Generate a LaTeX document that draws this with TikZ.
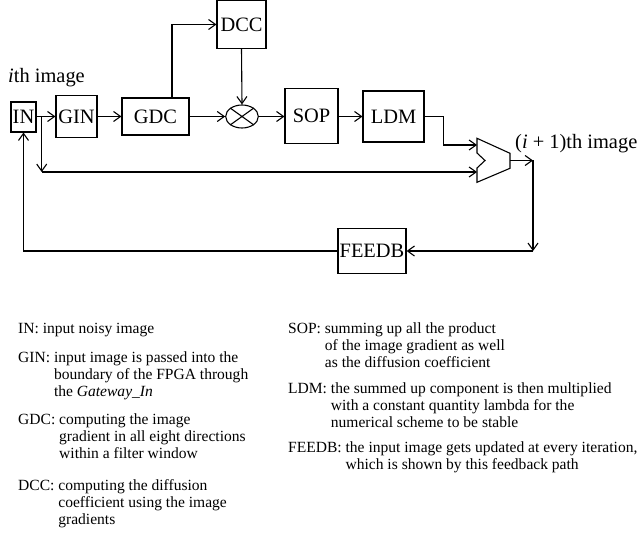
\documentclass[tikz,border=0pt]{standalone}
\usepackage{fontspec}
\setmainfont{Liberation Serif}
\usetikzlibrary{arrows.meta,shapes.geometric}
\begin{document}
\begin{tikzpicture}[x=1bp,y=-1bp,
  blk/.style={draw, line width=1.1bp, inner sep=0pt, font=\fontsize{20.5}{24}\selectfont},
  arr/.style={line width=1.1bp, -{Straight Barb[length=7bp,width=10bp,line width=1.1bp]}},
  ln/.style={line width=1.1bp},
  legend/.style={anchor=base west, inner sep=0pt, font=\fontsize{15.6}{17.4}\selectfont},
  lbl/.style={anchor=base west, inner sep=0pt, font=\fontsize{20.5}{24}\selectfont}]
\useasboundingbox (0,0) rectangle (642,536);

% blocks
\node[blk, minimum width=25bp, minimum height=30bp] (in) at (23.5,117) {IN};
\node[blk, minimum width=41bp, minimum height=42bp] (gin) at (76.5,116.5) {GIN};
\node[blk, minimum width=67bp, minimum height=37bp] (gdc) at (155.5,116.5) {GDC};
\node[blk, minimum width=49bp, minimum height=48bp] (dcc) at (241.5,24.5) {DCC};
\node[draw, line width=1.1bp, ellipse, inner sep=0pt, minimum width=32.6bp, minimum height=23bp] (mult) at (242,116.5) {};
\node[blk, minimum width=53bp, minimum height=55bp] (sop) at (311.5,116) {SOP};
\node[blk, minimum width=61bp, minimum height=51bp] (ldm) at (393.5,116.5) {LDM};
\node[blk, minimum width=68bp, minimum height=45bp] (feedb) at (372,250.8) {FEEDB};

% multiplier cross
\draw[ln] (mult.north west) -- (mult.south east) (mult.north east) -- (mult.south west);

% adder
\draw[ln, line join=miter] (477,138.3) -- (510,153.3) -- (510,168.3) -- (477,182.3) -- (477,168) -- (485,160.5) -- (477,153) -- cycle;
\coordinate (addin1) at (477,145);
\coordinate (addin2) at (477,172);
\coordinate (addout) at (510,160.5);
\coordinate (outc) at (533,160.5);
\coordinate (outd) at (533,251);
\coordinate (br) at (41.7,116.5);
\coordinate (brd) at (41.7,172);

% labels
\node[lbl] (ith) at (8,83) {\textit{i}th image};
\node[lbl] (ip1) at (515,149) {(\textit{i} + 1)th image};

% connectors
\draw[arr] (in.east |- br) -- (gin.west |- br);
\draw[arr] (br) -- (brd);
\draw[arr] (brd) -- (addin2);
\draw[arr] (gin.east) -- (gdc.west);
\draw[arr] ([xshift=16.5bp]gdc.north) |- (dcc.west);
\draw[arr] (dcc.south) -- (mult.north);
\draw[arr] (gdc.east) -- (mult.west);
\draw[arr] (mult.east) -- (sop.west |- mult.east);
\draw[arr] (sop.east |- ldm.west) -- (ldm.west);
\draw[arr] (ldm.east) -- ++(19,0) |- (addin1);
\draw[arr] (addout) -- (outc);
\draw[arr] (outc) -- (outd);
\draw[arr] (outd) -- (feedb.east |- outd);
\draw[arr] (feedb.west |- outd) -| (in.south);

% legend
\node[legend] (lin) at (18,333) {\begin{tabular}[t]{@{}l@{ }l@{}}IN: & input noisy image\end{tabular}};
\node[legend] (lgin) at (18,362) {\begin{tabular}[t]{@{}l@{ }l@{}}GIN: & input image is passed into the\\ & boundary of the FPGA through\\ & the \textit{Gateway\_In}\end{tabular}};
\node[legend] (lgdc) at (18,424) {\begin{tabular}[t]{@{}l@{ }l@{}}GDC: & computing the image\\ & gradient in all eight directions\\ & within a filter window\end{tabular}};
\node[legend] (ldcc) at (18,490) {\begin{tabular}[t]{@{}l@{ }l@{}}DCC: & computing the diffusion\\ & coefficient using the image\\ & gradients\end{tabular}};
\node[legend] (lsop) at (288,333) {\begin{tabular}[t]{@{}l@{ }l@{}}SOP: & summing up all the product\\ & of the image gradient as well\\ & as the diffusion coefficient\end{tabular}};
\node[legend] (lldm) at (288,393) {\begin{tabular}[t]{@{}l@{ }l@{}}LDM: & the summed up component is then multiplied\\ & with a constant quantity lambda for the\\ & numerical scheme to be stable\end{tabular}};
\node[legend] (lfeedb) at (288,452) {\begin{tabular}[t]{@{}l@{ }l@{}}FEEDB: & the input image gets updated at every iteration,\\ & which is shown by this feedback path\end{tabular}};
\end{tikzpicture}
\end{document}
